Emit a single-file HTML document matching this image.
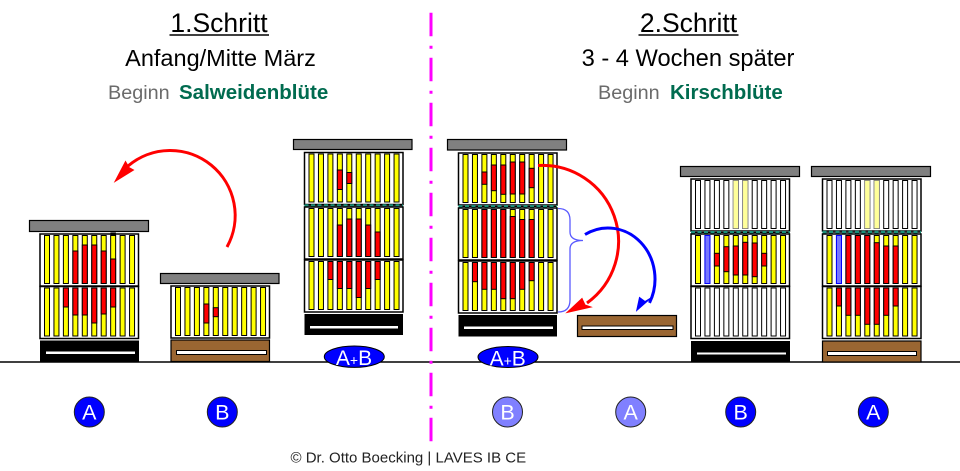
<!DOCTYPE html>
<html><head><meta charset="utf-8"><style>
html,body{margin:0;padding:0;background:#fff;}
svg{display:block;}
text{font-family:"Liberation Sans",Arial,sans-serif;}
.y rect{fill:#ffff00;stroke:#000;stroke-width:1;}
.w rect{fill:#fff;stroke:#000;stroke-width:1;}
.r{fill:#ff0000;stroke:#000;stroke-width:1;}
.ly{fill:#ffff99;stroke:#999;stroke-width:0.6;}
.bl{fill:#7777ff;stroke:#0000ff;stroke-width:1;}
.bx{fill:#fff;stroke:#000;stroke-width:1.5;}
.lid{fill:#808080;stroke:#000;stroke-width:1.2;}
.br{fill:#9a6632;stroke:#000;stroke-width:1.2;}
.wb{fill:#fff;stroke:#000;stroke-width:1;}
</style></head><body>
<svg width="960" height="471" viewBox="0 0 960 471" xmlns="http://www.w3.org/2000/svg">
<defs>
<g id="yf" class="y">
<rect x="4.5" y="1.5" width="5" height="48"/><rect x="13.95" y="1.5" width="5" height="48"/><rect x="23.4" y="1.5" width="5" height="48"/><rect x="32.85" y="1.5" width="5" height="48"/><rect x="42.3" y="1.5" width="5" height="48"/><rect x="51.75" y="1.5" width="5" height="48"/><rect x="61.2" y="1.5" width="5" height="48"/><rect x="70.65" y="1.5" width="5" height="48"/><rect x="80.1" y="1.5" width="5" height="48"/><rect x="89.55" y="1.5" width="5" height="48"/>
</g>
<g id="wf" class="w">
<rect x="4.5" y="1.5" width="5" height="48"/><rect x="13.95" y="1.5" width="5" height="48"/><rect x="23.4" y="1.5" width="5" height="48"/><rect x="32.85" y="1.5" width="5" height="48"/><rect x="42.3" y="1.5" width="5" height="48"/><rect x="51.75" y="1.5" width="5" height="48"/><rect x="61.2" y="1.5" width="5" height="48"/><rect x="70.65" y="1.5" width="5" height="48"/><rect x="80.1" y="1.5" width="5" height="48"/><rect x="89.55" y="1.5" width="5" height="48"/>
</g>
</defs>

<!-- Titles -->
<text x="219" y="32" font-size="26.5" text-anchor="middle" fill="#000">1.Schritt</text>
<line x1="169.5" y1="35" x2="269" y2="35" stroke="#000" stroke-width="1.5"/>
<text x="220.5" y="66" font-size="23.5" text-anchor="middle" fill="#000">Anfang/Mitte März</text>
<text x="108" y="99" font-size="19.8" fill="#6b6b6b">Beginn</text>
<text x="179" y="99" font-size="20.5" font-weight="bold" fill="#006b4f">Salweidenblüte</text>

<text x="688.5" y="32" font-size="26.5" text-anchor="middle" fill="#000">2.Schritt</text>
<line x1="638.5" y1="35" x2="738.5" y2="35" stroke="#000" stroke-width="1.5"/>
<text x="688" y="66" font-size="23.7" text-anchor="middle" fill="#000">3 - 4 Wochen später</text>
<text x="598" y="99" font-size="19.8" fill="#6b6b6b">Beginn</text>
<text x="670" y="99" font-size="20.5" font-weight="bold" fill="#006b4f">Kirschblüte</text>

<!-- Ground line -->
<line x1="0" y1="362" x2="960" y2="362" stroke="#000" stroke-width="1.5"/>

<!-- Hive A left -->
<rect class="lid" x="29.5" y="220.5" width="119" height="11"/>
<g transform="translate(40,234)">
<rect class="bx" width="98.5" height="52"/><use href="#yf"/>
<rect class="r" x="32.85" y="17" width="5" height="32.5"/><rect class="r" x="42.3" y="11" width="5" height="38.5"/><rect class="r" x="51.75" y="11" width="5" height="38.5"/><rect class="r" x="61.2" y="17" width="5" height="32.5"/><rect class="r" x="70.65" y="25" width="5" height="24.5"/>
<rect x="70.4" y="-1.5" width="5.5" height="3" fill="#000"/>
</g>
<g transform="translate(40,286.5)">
<rect class="bx" width="98.5" height="52"/><use href="#yf"/>
<rect class="r" x="23.4" y="1.5" width="5" height="19"/><rect class="r" x="32.85" y="1.5" width="5" height="27"/><rect class="r" x="42.3" y="1.5" width="5" height="27"/><rect class="r" x="51.75" y="1.5" width="5" height="35"/><rect class="r" x="61.2" y="1.5" width="5" height="26"/><rect class="r" x="70.65" y="1.5" width="5" height="19"/>
</g>
<rect x="40" y="340.5" width="99" height="21.5" fill="#000"/>
<rect x="46" y="351.5" width="89" height="2.5" fill="#fff"/>

<!-- Hive B left -->
<rect class="lid" x="160.5" y="273.5" width="118.5" height="10"/>
<g transform="translate(171,286)">
<rect class="bx" width="98.5" height="52"/><use href="#yf"/>
<rect class="r" x="32.85" y="18" width="5" height="19"/><rect class="r" x="42.3" y="21.7" width="5" height="9"/>
</g>
<rect class="br" x="171" y="340" width="98.5" height="21.5"/>
<rect class="wb" x="176.5" y="350.5" width="90" height="4"/>

<!-- Hive A+B left -->
<rect class="lid" x="293.5" y="139.5" width="118.5" height="10"/>
<g transform="translate(304.5,152.5)">
<rect class="bx" width="98.5" height="52"/><use href="#yf"/>
<rect class="r" x="32.85" y="17.5" width="5" height="19.5"/><rect class="r" x="42.3" y="20" width="5" height="11"/>
</g>
<line x1="304.5" y1="205.8" x2="403" y2="205.8" stroke="#000" stroke-width="1"/>
<line x1="304.5" y1="205.8" x2="403" y2="205.8" stroke="#1b8f7a" stroke-width="3" stroke-dasharray="4 2.5"/>
<g transform="translate(304.5,207)">
<rect class="bx" width="98.5" height="52"/><use href="#yf"/>
<rect class="r" x="32.85" y="18" width="5" height="31.5"/><rect class="r" x="42.3" y="12" width="5" height="37.5"/><rect class="r" x="51.75" y="12" width="5" height="37.5"/><rect class="r" x="61.2" y="18" width="5" height="31.5"/><rect class="r" x="70.65" y="25" width="5" height="24.5"/>
</g>
<g transform="translate(304.5,260)">
<rect class="bx" width="98.5" height="52"/><use href="#yf"/>
<rect class="r" x="23.4" y="1.5" width="5" height="18"/><rect class="r" x="32.85" y="1.5" width="5" height="27"/><rect class="r" x="42.3" y="1.5" width="5" height="27"/><rect class="r" x="51.75" y="1.5" width="5" height="36"/><rect class="r" x="61.2" y="1.5" width="5" height="27"/><rect class="r" x="70.65" y="1.5" width="5" height="18"/>
</g>
<rect x="304.5" y="314" width="98.5" height="21" fill="#000"/>
<rect x="310" y="326" width="88" height="2.5" fill="#fff"/>
<ellipse cx="354.3" cy="356.7" rx="30" ry="10.7" fill="#0000ff" stroke="#000" stroke-width="1"/>
<text x="354" y="365" font-size="21" text-anchor="middle" fill="#fff">A<tspan font-size="14">+</tspan>B</text>

<!-- Hive A+B right -->
<rect class="lid" x="447.5" y="139.5" width="119" height="10.5"/>
<g transform="translate(458.5,153)">
<rect class="bx" width="98.5" height="52"/><use href="#yf"/>
<rect class="r" x="23.4" y="19" width="5" height="12.3"/><rect class="r" x="32.85" y="12" width="5" height="25.7"/><rect class="r" x="42.3" y="12" width="5" height="29.3"/><rect class="r" x="51.75" y="9" width="5" height="32"/><rect class="r" x="61.2" y="9" width="5" height="32"/><rect class="r" x="70.65" y="15.3" width="5" height="19.4"/>
</g>
<line x1="458.5" y1="206.5" x2="557" y2="206.5" stroke="#000" stroke-width="1"/>
<line x1="458.5" y1="206.5" x2="557" y2="206.5" stroke="#1b8f7a" stroke-width="3" stroke-dasharray="4 2.5"/>
<g transform="translate(458.5,208)">
<rect class="bx" width="98.5" height="52"/><use href="#yf"/>
<rect class="r" x="23.4" y="1.5" width="5" height="48"/><rect class="r" x="32.85" y="1.5" width="5" height="48"/><rect class="r" x="42.3" y="1.5" width="5" height="48"/><rect class="r" x="51.75" y="8.5" width="5" height="41"/><rect class="r" x="61.2" y="11.5" width="5" height="38"/><rect class="r" x="70.65" y="11.5" width="5" height="38"/>
</g>
<g transform="translate(458.5,261)">
<rect class="bx" width="98.5" height="52"/><use href="#yf"/>
<rect class="r" x="13.95" y="1.5" width="5" height="19.2"/><rect class="r" x="23.4" y="1.5" width="5" height="26.8"/><rect class="r" x="32.85" y="1.5" width="5" height="26.8"/><rect class="r" x="42.3" y="1.5" width="5" height="36.2"/><rect class="r" x="51.75" y="1.5" width="5" height="36.2"/><rect class="r" x="61.2" y="1.5" width="5" height="26.8"/><rect class="r" x="70.65" y="1.5" width="5" height="18.2"/>
</g>
<rect x="458.5" y="315" width="98.5" height="21.5" fill="#000"/>
<rect x="464" y="326.5" width="89" height="2.5" fill="#fff"/>
<ellipse cx="508" cy="357" rx="30" ry="10.5" fill="#0000ff" stroke="#000" stroke-width="1"/>
<text x="507.7" y="365.3" font-size="21" text-anchor="middle" fill="#fff">A<tspan font-size="14">+</tspan>B</text>

<!-- Brown plank -->
<rect class="br" x="577.5" y="315.5" width="99" height="21"/>
<rect class="wb" x="582" y="326" width="91" height="3.5"/>

<!-- Hive B right -->
<rect class="lid" x="680.5" y="166.5" width="119" height="10"/>
<g transform="translate(691,179)">
<rect class="bx" width="98.5" height="52"/><use href="#wf"/>
<rect class="ly" x="42.3" y="1.5" width="5" height="48"/><rect class="ly" x="51.75" y="1.5" width="5" height="48"/>
</g>
<line x1="691" y1="232.5" x2="790" y2="232.5" stroke="#000" stroke-width="1"/>
<line x1="691" y1="232.5" x2="790" y2="232.5" stroke="#1b8f7a" stroke-width="3" stroke-dasharray="4 2.5"/>
<g transform="translate(691,234)">
<rect class="bx" width="98.5" height="52"/><use href="#yf"/>
<rect class="bl" x="13.95" y="1.5" width="5" height="48"/>
<rect class="r" x="23.4" y="19.3" width="5" height="12.7"/><rect class="r" x="32.85" y="12.7" width="5" height="25"/><rect class="r" x="42.3" y="12" width="5" height="29"/><rect class="r" x="51.75" y="8.3" width="5" height="32.7"/><rect class="r" x="61.2" y="9" width="5" height="33.7"/><rect class="r" x="70.65" y="19.3" width="5" height="12.7"/>
</g>
<g transform="translate(691,286.5)">
<rect class="bx" width="98.5" height="52"/><use href="#wf"/>
</g>
<rect x="691" y="341" width="99" height="21" fill="#000"/>
<rect x="697" y="352.5" width="89" height="2" fill="#fff"/>

<!-- Hive A right -->
<rect class="lid" x="811.5" y="166.5" width="119" height="10"/>
<g transform="translate(822.5,179)">
<rect class="bx" width="98.5" height="52"/><use href="#wf"/>
<rect class="ly" x="42.3" y="1.5" width="5" height="48"/><rect class="ly" x="51.75" y="1.5" width="5" height="48"/>
</g>
<line x1="822.5" y1="232.3" x2="921" y2="232.3" stroke="#000" stroke-width="1"/>
<line x1="822.5" y1="232.3" x2="921" y2="232.3" stroke="#1b8f7a" stroke-width="3" stroke-dasharray="4 2.5"/>
<g transform="translate(822.5,234)">
<rect class="bx" width="98.5" height="52"/><use href="#yf"/>
<rect class="bl" x="13.95" y="1.5" width="5" height="48"/>
<rect class="r" x="23.4" y="1.5" width="5" height="48"/><rect class="r" x="32.85" y="1.5" width="5" height="48"/><rect class="r" x="42.3" y="1.5" width="5" height="48"/><rect class="r" x="51.75" y="8.7" width="5" height="40.8"/><rect class="r" x="61.2" y="12" width="5" height="37.5"/><rect class="r" x="70.65" y="12" width="5" height="37.5"/>
</g>
<g transform="translate(822.5,286.5)">
<rect class="bx" width="98.5" height="52"/><use href="#yf"/>
<rect class="r" x="13.95" y="1.5" width="5" height="18"/><rect class="r" x="23.4" y="1.5" width="5" height="27.3"/><rect class="r" x="32.85" y="1.5" width="5" height="27.3"/><rect class="r" x="42.3" y="1.5" width="5" height="36.3"/><rect class="r" x="51.75" y="1.5" width="5" height="36.3"/><rect class="r" x="61.2" y="1.5" width="5" height="27.3"/><rect class="r" x="70.65" y="1.5" width="5" height="18"/>
</g>
<rect class="br" x="822.5" y="341" width="98.5" height="21"/>
<rect class="wb" x="827.5" y="351.5" width="89" height="4"/>

<!-- Arrows -->
<path d="M 227 247 A 65 65 0 0 0 128 166" fill="none" stroke="#ff0000" stroke-width="3"/>
<polygon points="115,181.5 125.5,161.5 129,167.5 133.5,170" fill="#ff0000" stroke="#ff0000" stroke-width="1"/>

<path d="M 538 165.5 A 76 76 0 0 1 587 303" fill="none" stroke="#ff0000" stroke-width="3"/>
<polygon points="567,312.5 582,298.5 585,305 591,307" fill="#ff0000" stroke="#ff0000" stroke-width="1"/>

<path d="M 558 208.5 Q 570 208.5 570 220 L 570 232 Q 570 240.5 583 240.5 Q 570 240.5 570 249 L 570 300 Q 570 312 558 312" fill="none" stroke="#5a5aff" stroke-width="1.3"/>

<path d="M 585 234.5 A 47 51 0 0 1 649.5 302.9" fill="none" stroke="#0000ff" stroke-width="3"/>
<polygon points="636.7,310.5 639.5,297.5 645,301.5 651.5,297.5" fill="#0000ff" stroke="#0000ff" stroke-width="1"/>

<!-- Magenta divider -->
<line x1="431" y1="12.7" x2="431" y2="441.2" stroke="#ff00ff" stroke-width="3" stroke-dasharray="23.5 9.5 3 9"/>

<!-- Circles -->
<g stroke="#222" stroke-width="1">
<circle cx="89.3" cy="412" r="15" fill="#0000ff"/>
<circle cx="222.3" cy="412" r="15" fill="#0000ff"/>
<circle cx="507.5" cy="412" r="15" fill="#8080ff"/>
<circle cx="630.7" cy="412" r="15" fill="#8080ff"/>
<circle cx="740.7" cy="412" r="15" fill="#0000ff"/>
<circle cx="873.3" cy="412" r="15" fill="#0000ff"/>
</g>
<g font-size="21.5" fill="#fff" text-anchor="middle">
<text x="89.3" y="419.5">A</text>
<text x="222.3" y="419.5">B</text>
<text x="507.5" y="419.5">B</text>
<text x="630.7" y="419.5">A</text>
<text x="740.7" y="419.5">B</text>
<text x="873.3" y="419.5">A</text>
</g>

<text x="408.3" y="462.7" font-size="15" text-anchor="middle" fill="#222">© Dr. Otto Boecking | LAVES IB CE</text>
</svg>
</body></html>
